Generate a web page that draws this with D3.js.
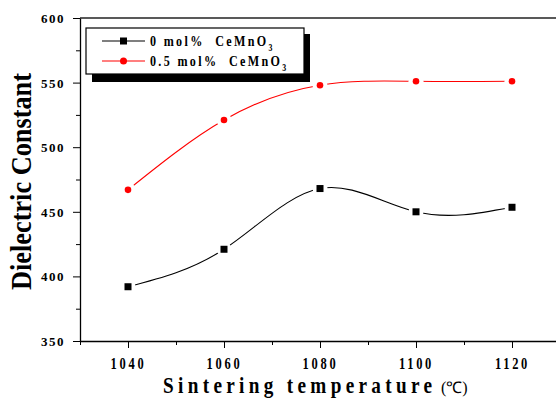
<!DOCTYPE html>
<html>
<head>
<meta charset="utf-8">
<script src="https://d3js.org/d3.v7.min.js"></script>
<style>
  body { margin: 0; background: #fff; }
  text { font-family: "Liberation Serif", "Times New Roman", serif; font-weight: bold; }
</style>
</head>
<body>
<script>
// data
const temps = [1040, 1060, 1080, 1100, 1120];
const pure = [392, 421, 468, 450, 453.5];     // 0 mol% CeMnO3
const doped = [467, 521, 548, 551, 551];      // 0.5 mol% CeMnO3
const xTicks = [1040, 1060, 1080, 1100, 1120];
const yTicks = [350, 400, 450, 500, 550, 600];
const seriesNames = ["0 mol%  CeMnO", "0.5 mol%  CeMnO"];

const width = 556, height = 400;
const svg = d3.select("body").append("svg")
  .attr("width", width)
  .attr("height", height);

const x = d3.scaleLinear().domain([1030, 1130]).range([80, 560]);
const y = d3.scaleLinear().domain([350, 600]).range([341, 18]);

// top frame line
svg.append("line")
  .attr("x1", 80).attr("x2", width)
  .attr("y1", y(600)).attr("y2", y(600))
  .style("stroke", "#222").style("stroke-width", 1.3);

// minor ticks
const xAxisMinor = d3.axisBottom(x).tickValues([1030, 1050, 1070, 1090, 1110, 1130]).tickSize(4).tickFormat("");
svg.append("g").attr("transform", `translate(0,${y(350)})`).call(xAxisMinor)
  .call(g => g.select(".domain").remove());
const yAxisMinor = d3.axisLeft(y).tickValues([375, 425, 475, 525, 575]).tickSize(4).tickFormat("");
svg.append("g").attr("transform", `translate(${x(1030)},0)`).call(yAxisMinor)
  .call(g => g.select(".domain").remove());

// x axis
const xAxis = svg.append("g")
  .attr("transform", `translate(0,${y(350)})`)
  .call(d3.axisBottom(x).tickValues(xTicks).tickFormat(d3.format("d"))
    .tickSize(7).tickPadding(10).tickSizeOuter(0));
xAxis.select(".domain").style("stroke-width", 1.3);
xAxis.selectAll("text")
  .attr("font-size", 16)
  .style("letter-spacing", "3.5px")
  .attr("transform", "scale(0.78,1)");

// y axis
const yAxis = svg.append("g")
  .attr("transform", `translate(${x(1030)},0)`)
  .call(d3.axisLeft(y).tickValues(yTicks).tickSize(7).tickPadding(8).tickSizeOuter(0));
yAxis.select(".domain").style("stroke-width", 1.3);
yAxis.selectAll("text")
  .attr("font-size", 13)
  .style("letter-spacing", "1.5px")
  .attr("dy", "0.35em");

// axis titles
const xt = svg.append("g").attr("transform", "translate(163,393) scale(0.8,1)");
xt.append("text")
  .attr("font-size", 24)
  .attr("textLength", 269 / 0.8)
  .attr("lengthAdjust", "spacing")
  .text("Sintering temperature");
svg.append("text")
  .attr("x", 441).attr("y", 393)
  .attr("font-size", 16)
  .style("font-weight", "normal")
  .text("(℃)");

svg.append("g").attr("transform", "translate(31,290) rotate(-90)")
  .append("text")
  .attr("font-size", 29)
  .attr("textLength", 217)
  .attr("lengthAdjust", "spacingAndGlyphs")
  .text("Dielectric Constant");

// lines
const line = d3.line().curve(d3.curveNatural)
  .x((d, i) => x(temps[i]))
  .y(d => y(d));

svg.append("path").datum(pure)
  .attr("d", line).attr("fill", "none")
  .style("stroke", "#000").style("stroke-width", 1.1);
svg.append("path").datum(doped)
  .attr("d", line).attr("fill", "none")
  .style("stroke", "#ff0000").style("stroke-width", 1.1);

// white gaps around the symbols
svg.selectAll("circle.gap")
  .data(temps.map((t, i) => [t, pure[i]]).concat(temps.map((t, i) => [t, doped[i]])))
  .join("circle")
  .attr("class", "gap")
  .attr("cx", d => x(d[0])).attr("cy", d => y(d[1]))
  .attr("r", 7.5).style("fill", "#fff");

svg.selectAll("rect.sq")
  .data(pure)
  .join("rect")
  .attr("class", "sq")
  .attr("x", (d, i) => x(temps[i]) - 3.5).attr("y", d => y(d) - 3.5)
  .attr("width", 7).attr("height", 7)
  .style("fill", "#000");

svg.selectAll("circle.dot")
  .data(doped)
  .join("circle")
  .attr("class", "dot")
  .attr("cx", (d, i) => x(temps[i])).attr("cy", d => y(d))
  .attr("r", 3.3).style("fill", "#ff0000");

// legend
const lg = svg.append("g");
lg.append("rect").attr("x", 92).attr("y", 34).attr("width", 218).attr("height", 48).style("fill", "#000");
lg.append("rect").attr("x", 86).attr("y", 28).attr("width", 218).attr("height", 46)
  .style("fill", "#fff").style("stroke", "#000").style("stroke-width", 1.2);

const rows = [
  { name: seriesNames[0], color: "#000", sym: "square", yy: 41 },
  { name: seriesNames[1], color: "#ff0000", sym: "circle", yy: 61 }
];
rows.forEach(r => {
  lg.append("line").attr("x1", 102).attr("x2", 145).attr("y1", r.yy).attr("y2", r.yy)
    .style("stroke", r.color).style("stroke-width", 1.1);
  if (r.sym === "square") {
    lg.append("rect").attr("x", 120).attr("y", r.yy - 3.5).attr("width", 7).attr("height", 7).style("fill", r.color);
  } else {
    lg.append("circle").attr("cx", 123.5).attr("cy", r.yy).attr("r", 3.5).style("fill", r.color);
  }
  const t = lg.append("g").attr("transform", `translate(150,${r.yy + 5}) scale(0.78,1)`)
    .append("text").attr("font-size", 15.5)
    .style("letter-spacing", "3px")
    .style("white-space", "pre");
  t.append("tspan").text(r.name);
  t.append("tspan").attr("dy", 5).attr("font-size", 10).text("3");
});
</script>
</body>
</html>
